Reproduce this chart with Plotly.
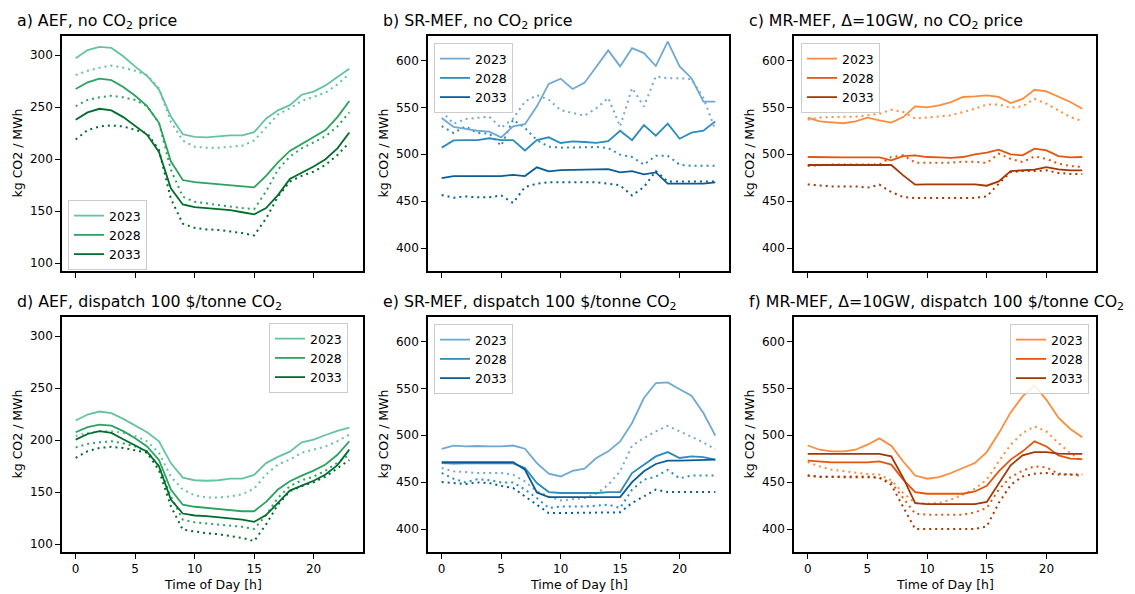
import plotly.graph_objects as go

hours = list(range(24))
years = ["2023", "2028", "2033"]

# ---- a) AEF, no CO2 price
a23 = [297, 305, 308, 307, 299, 289, 280, 267, 241, 224, 221.5, 221, 222, 223, 223, 226, 239, 247, 252, 262, 265, 271, 279, 287]
a23d = [281, 285, 288, 290, 288, 285, 281, 268, 236, 218, 212, 211, 211, 212, 213, 218, 231, 243, 249, 256, 260, 264, 272, 282]
a28 = [267.5, 274, 277.5, 276, 269.5, 261, 251, 235, 198, 180, 178, 177, 176, 175, 173.5, 173, 184, 197, 208, 214.5, 221, 228, 240.5, 256]
a28d = [251, 257, 259.5, 261, 259.5, 257, 251, 235, 190, 164, 159, 157.5, 156, 154, 153, 152, 169, 190, 202.5, 210.5, 216, 222, 231.5, 245]
a33 = [238, 245, 248.5, 247, 240.5, 232, 223.5, 207, 172, 156.5, 154, 153, 152, 151, 149, 147, 153, 165.5, 181, 187, 193, 200, 210.5, 225.7]
a33d = [219, 228, 231.5, 232.5, 231.5, 228, 225, 209, 162, 138, 134, 132.5, 132, 130.5, 129, 126.7, 143, 164, 178.5, 184, 188, 194.5, 204, 216]

# ---- b) SR-MEF, no CO2 price
b23 = [538.5, 529, 527, 525, 524, 518, 529.7, 532, 551, 575, 580.5, 569.5, 576, 594, 610.7, 593.6, 613, 607.8, 594, 620, 593.6, 581, 556, 556]
b23d = [545.6, 532.5, 537.5, 539, 540, 528, 538, 556, 563, 558, 547, 544, 541, 549, 560, 529.7, 570.5, 551, 583, 581, 581, 580, 560, 526]
b28 = [507, 514.7, 515, 515, 517, 515, 515, 504, 515, 518, 512, 513.7, 513, 512, 514, 525, 515, 531, 519.7, 532.5, 516.5, 523, 525, 535]
b28d = [530, 522.6, 529.7, 522.6, 522, 509, 536.8, 528, 515, 508, 507, 507, 507.6, 507.6, 506.6, 499.5, 497, 488.8, 498.4, 498.4, 488.8, 487.7, 487.7, 487.7]
b33 = [474.6, 476.7, 476.7, 476.7, 476.7, 476.7, 478, 476.7, 486, 481.7, 483, 483, 483, 483.8, 484, 480.6, 482, 478.5, 480.6, 468.6, 468.6, 468.6, 468.6, 470]
b33d = [456.5, 453.6, 455, 454, 454, 456, 448, 465, 468.6, 470, 470, 470, 470, 470, 468.5, 466.8, 456, 465, 482, 471, 471, 471, 471, 471]

# ---- c) MR-MEF, no CO2 price
c23 = [539, 535, 534, 533, 535, 539, 536, 533.6, 539.6, 551, 550, 552, 555.6, 561, 561.6, 562.7, 561, 554.5, 559, 568.7, 567, 561, 555.6, 548.5]
c23d = [536.8, 539, 539.6, 539.6, 540, 541.4, 543, 547.4, 545, 538, 539, 539.6, 541.4, 545, 548.5, 553, 553, 549.6, 551, 559, 553.8, 546.7, 539.6, 535.3]
c28 = [497, 496.6, 496.6, 496.6, 496.6, 496.6, 496.6, 493.4, 498, 498.8, 497, 496.6, 496, 497, 499.8, 501.6, 504.8, 499.8, 498.8, 505.9, 504, 498, 496.6, 497]
c28d = [487.4, 488.5, 489, 489, 489, 489, 489, 497, 498.8, 491, 491, 491, 491, 492, 492, 490.6, 500.5, 495, 491.6, 497.7, 495, 490, 487.4, 486.3]
c33 = [488.5, 488.5, 488.5, 488.5, 488.5, 488.5, 488.5, 488.5, 477.4, 467.5, 467.8, 467.8, 467.8, 467.8, 467.8, 466.4, 471, 482, 482.8, 483.5, 486.3, 483.8, 482.8, 482.8]
c33d = [467.8, 466.8, 465.7, 465.7, 465.7, 464.3, 467.5, 459.7, 454.4, 453.3, 453.3, 453.3, 453.3, 453.3, 453.3, 455, 468.6, 481, 482, 482, 482.8, 480, 479, 479]

# ---- d) AEF, dispatch 100 $/tonne CO2
d23 = [219, 224.7, 227.6, 226, 220.5, 214, 207.7, 199, 178, 164, 161.5, 161, 161.5, 163, 163, 166.7, 178, 184, 189, 198, 200.5, 205, 209, 212]
d23d = [204, 207, 208.7, 208.7, 207, 204, 199, 188, 165, 152.6, 147, 145, 145, 146, 148, 153.5, 167, 176.6, 181.4, 188, 191, 194, 199, 205.5]
d28 = [207.7, 212.5, 215, 214, 208.7, 202, 194, 181, 152.6, 138, 136, 135, 134, 133, 131.7, 131.7, 140.7, 152.6, 160.6, 166, 170.8, 176.6, 186, 199]
d28d = [193, 196.5, 198, 199, 197, 194, 189.4, 175, 146, 123.7, 121, 120, 119, 118, 116.7, 114.7, 128, 144.6, 155.8, 161.5, 165, 170.8, 178, 186]
d33 = [200.6, 206, 208.7, 207, 201, 195, 189, 175, 143, 129.5, 127.6, 127, 126, 124.7, 123.7, 121.5, 128, 139.7, 151.6, 156.4, 161, 167, 176, 191]
d33d = [183, 189.4, 192.6, 193.6, 192.6, 190, 188, 171, 136.5, 114, 112, 110.6, 109.6, 108, 106, 103, 119, 138, 151, 155.8, 159.6, 165, 173, 181]

# ---- e) SR-MEF, dispatch 100 $/tonne CO2
e23 = [485.3, 488.8, 488, 488.5, 488, 488, 489, 485.6, 470.3, 459, 456, 462, 464.3, 475.7, 482.8, 493.4, 513, 539.6, 555.6, 556.3, 549, 542, 523.6, 499.5]
e23d = [465, 461.5, 460.7, 459.7, 459.7, 459.7, 458, 450.8, 440, 434.8, 430.5, 432, 433, 437.7, 447, 461.5, 488.8, 497, 504, 510, 504, 498.8, 492.4, 485]
e28 = [470.3, 469.6, 470, 470, 470, 470, 470, 465, 449, 439.4, 438.4, 438.4, 438.4, 438.4, 439.4, 439.4, 459.7, 468.6, 477.4, 482, 475.7, 477.4, 476.7, 474]
e28d = [459.7, 453.6, 449.7, 453, 452, 449.7, 449.7, 442, 433, 422.4, 424, 424, 424, 424.9, 426, 422.4, 442, 452.6, 456, 463, 454, 457, 457, 457]
e33 = [471.4, 471.4, 471.4, 471.4, 471.4, 471.4, 471.4, 463.2, 439, 434, 434, 434, 434, 434, 434, 434, 450, 461.5, 469.3, 473, 472.8, 473, 473.3, 474]
e33d = [450, 449, 448, 449.7, 449, 446, 443.7, 434.8, 426, 417, 417, 417, 417, 417, 417, 417.8, 427.7, 434.8, 442, 439.4, 439.4, 439.4, 439.4, 439.4]

# ---- f) MR-MEF, dispatch 100 $/tonne CO2
f23 = [489, 484.5, 482.8, 482.8, 484.5, 489.9, 496.6, 488.8, 472, 457, 453.6, 455.4, 459.7, 465, 470.3, 482, 502, 524.3, 541.4, 553, 537.7, 518.6, 506.6, 497.7]
f23d = [471.4, 466.8, 463.2, 461.5, 459.7, 458.6, 458, 451.9, 438.4, 427.7, 427, 427.7, 431.3, 436.6, 443, 452.6, 472, 489.9, 502.3, 509.4, 504, 491.7, 481, 472]
f28 = [473, 471.8, 471, 471, 471, 471, 472, 468.6, 452.6, 439.4, 437.6, 437.6, 437.6, 437.6, 440, 446, 461.5, 474, 482.8, 493.4, 488, 478.5, 475, 474.6]
f28d = [457, 456, 456, 456, 456, 456, 454.4, 449.7, 433, 416.3, 415.3, 415.3, 415.3, 415.3, 417.8, 422.4, 442, 455.4, 462.2, 466.8, 465.7, 459, 458, 456.8]
f33 = [480, 480, 480, 480, 480, 480, 480, 477.4, 454.4, 427.7, 426.6, 426.6, 426.6, 426.6, 426.6, 428.8, 449, 467.9, 478.5, 482, 482, 480.3, 480, 480]
f33d = [457, 455.4, 455.4, 455.4, 455.4, 455.4, 455, 447, 424, 400, 400, 400, 400, 400, 400, 402.8, 427.7, 447, 456, 459, 459.7, 458, 458, 458]

titles = [
    "a) AEF, no CO<sub>2</sub> price",
    "b) SR-MEF, no CO<sub>2</sub> price",
    "c) MR-MEF, \u0394=10GW, no CO<sub>2</sub> price",
    "d) AEF, dispatch 100 $/tonne CO<sub>2</sub>",
    "e) SR-MEF, dispatch 100 $/tonne CO<sub>2</sub>",
    "f) MR-MEF, \u0394=10GW, dispatch 100 $/tonne CO<sub>2</sub>",
]
aef_ticks = [100, 150, 200, 250, 300]
mef_ticks = [400, 450, 500, 550, 600]
hour_ticks = [0, 5, 10, 15, 20]

greens = ["#66c2a4", "#2ca25f", "#006d2c"]
blues = ["#6fa9d3", "#2b8cbe", "#0a5d96"]
oranges = ["#fd8d3c", "#e6550d", "#a63603"]

FONT = "DejaVu Sans, Verdana, sans-serif"
W, H = 1135, 594


def px(x):
    return x / W


def py(y):
    return 1 - y / H


cols = [(62, 363), (428, 729), (794, 1096)]
rows = [(36, 271), (317, 552)]

panels = [
    dict(solid=[a23, a28, a33], dotted=[a23d, a28d, a33d], colors=greens, yr=[92.5, 318.5], yt=aef_ticks, r=0, c=0, leg=(68, 200, "left")),
    dict(solid=[b23, b28, b33], dotted=[b23d, b28d, b33d], colors=blues, yr=[375.5, 626], yt=mef_ticks, r=0, c=1, leg=(434, 43, "left")),
    dict(solid=[c23, c28, c33], dotted=[c23d, c28d, c33d], colors=oranges, yr=[375.5, 626], yt=mef_ticks, r=0, c=2, leg=(801, 43, "left")),
    dict(solid=[d23, d28, d33], dotted=[d23d, d28d, d33d], colors=greens, yr=[92.5, 318.5], yt=aef_ticks, r=1, c=0, leg=(348, 323, "right")),
    dict(solid=[e23, e28, e33], dotted=[e23d, e28d, e33d], colors=blues, yr=[375.5, 626], yt=mef_ticks, r=1, c=1, leg=(434, 324, "left")),
    dict(solid=[f23, f28, f33], dotted=[f23d, f28d, f33d], colors=oranges, yr=[375.5, 626], yt=mef_ticks, r=1, c=2, leg=(1089, 324, "right")),
]

fig = go.Figure()
layout = dict(
    width=W, height=H,
    margin=dict(l=0, r=0, t=0, b=0),
    paper_bgcolor="white", plot_bgcolor="white",
    font=dict(family=FONT, size=12, color="black"),
    showlegend=True,
    annotations=[],
)

for i, p in enumerate(panels):
    n = "" if i == 0 else str(i + 1)
    xa, ya = "x" + n, "y" + n
    legname = "legend" + n
    x0, x1 = cols[p["c"]]
    y0, y1 = rows[p["r"]]
    for k in range(3):
        fig.add_trace(go.Scatter(
            x=hours, y=p["dotted"][k], mode="lines",
            line=dict(color=p["colors"][k], width=2, dash="2px,4px"),
            xaxis=xa, yaxis=ya, showlegend=False, hoverinfo="skip",
        ))
    for k in range(3):
        fig.add_trace(go.Scatter(
            x=hours, y=p["solid"][k], mode="lines", name=years[k],
            line=dict(color=p["colors"][k], width=1.8),
            xaxis=xa, yaxis=ya, legend=legname, showlegend=True,
        ))
    axis_common = dict(
        showline=True, mirror=True, linecolor="black", linewidth=1.6,
        ticks="outside", ticklen=5, tickwidth=1.2, tickcolor="black",
        showgrid=False, zeroline=False, tickfont=dict(size=12, family=FONT),
    )
    layout["xaxis" + n] = dict(
        domain=[px(x0), px(x1)], range=[-1.15, 24.15], tickvals=hour_ticks,
        showticklabels=(p["r"] == 1), anchor=ya, **axis_common)
    layout["yaxis" + n] = dict(
        domain=[py(y1), py(y0)], range=p["yr"], tickvals=p["yt"],
        anchor=xa, **axis_common)
    lx, ly, lanchor = p["leg"]
    layout[legname] = dict(
        x=px(lx), y=py(ly), xanchor=lanchor, yanchor="top",
        xref="paper", yref="paper",
        bgcolor="rgba(255,255,255,0.85)", bordercolor="#cccccc", borderwidth=1,
        font=dict(size=12.5, family=FONT), tracegroupgap=0, itemwidth=30,
    )
    # panel title
    layout["annotations"].append(dict(
        text=titles[i], x=px(x0 - 47), y=py(21 if p["r"] == 0 else 302),
        xref="paper", yref="paper", xanchor="left", yanchor="middle",
        showarrow=False, font=dict(size=15.8, family=FONT)))
    # y-axis title
    layout["annotations"].append(dict(
        text="kg CO2 / MWh", x=px(x0 - 45), y=py((y0 + y1) / 2),
        xref="paper", yref="paper", xanchor="center", yanchor="middle",
        textangle=-90, showarrow=False, font=dict(size=12.5, family=FONT)))
    if p["r"] == 1:
        layout["annotations"].append(dict(
            text="Time of Day [h]", x=px((x0 + x1) / 2), y=py(584),
            xref="paper", yref="paper", xanchor="center", yanchor="middle",
            showarrow=False, font=dict(size=12.5, family=FONT)))

fig.update_layout(**layout)
fig.write_html(
    "out.html",
    config={"displayModeBar": False},
    post_script="document.body.style.margin='0';document.body.style.padding='0';document.body.style.overflow='hidden';",
)
